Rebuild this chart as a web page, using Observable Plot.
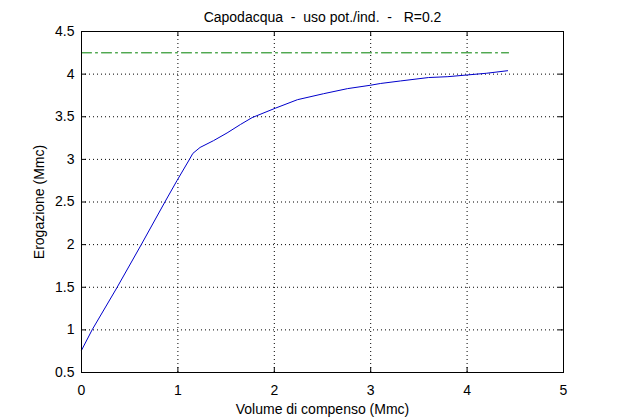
<!DOCTYPE html>
<html>
<head>
<meta charset="utf-8">
<script src="https://cdn.jsdelivr.net/npm/d3@7"></script>
<script src="https://cdn.jsdelivr.net/npm/@observablehq/plot@0.6"></script>
<style>
  html, body { margin: 0; padding: 0; background: #fff; }
  svg { display: block; }
</style>
</head>
<body>
<div id="chart"></div>
<script>
const titleText = "Capodacqua  -  uso pot./ind.  -   R=0.2";
const xLabel = "Volume di compenso (Mmc)";
const yLabel = "Erogazione (Mmc)";

const volume = [0, 0.11, 0.37, 0.62, 0.87, 0.99, 1.12, 1.155, 1.23, 1.37, 1.51, 1.65, 1.77, 2.01, 2.24, 2.51, 2.76, 3.00, 3.10, 3.31, 3.60, 3.80, 4.00, 4.20, 4.42];
const erogazione = [0.76, 1.00, 1.50, 2.00, 2.51, 2.75, 3.00, 3.07, 3.14, 3.22, 3.31, 3.41, 3.49, 3.60, 3.70, 3.77, 3.83, 3.87, 3.89, 3.92, 3.96, 3.97, 3.99, 4.01, 4.04];

const refVolume = [0, 4.43];
const refValue = [4.25, 4.25];

const xTicks = [0, 1, 2, 3, 4, 5];
const yTicks = [0.5, 1, 1.5, 2, 2.5, 3, 3.5, 4, 4.5];

const curve = volume.map((v, i) => ({x: v, y: erogazione[i]}));
const ref = refVolume.map((v, i) => ({x: v, y: refValue[i]}));

const W = 623, H = 419;
const mL = 81, mR = 60, mT = 31, mB = 47;
const frameH = H - mT - mB;
const frameW = W - mL - mR;
const tickLen = 5;

const chart = Plot.plot({
  width: W,
  height: H,
  marginLeft: mL,
  marginRight: mR,
  marginTop: mT,
  marginBottom: mB,
  style: {fontFamily: "Liberation Sans, Arial, sans-serif", fontSize: "14px", color: "#000", background: "#fff"},
  x: {domain: [0, 5]},
  y: {domain: [0.5, 4.5]},
  marks: [
    Plot.gridX(xTicks.slice(1, -1), {stroke: "#000", strokeOpacity: 1, strokeDasharray: "1,3", strokeWidth: 1}),
    Plot.gridY(yTicks.slice(1, -1), {stroke: "#000", strokeOpacity: 1, strokeDasharray: "1,3", strokeWidth: 1}),
    Plot.line(ref, {x: "x", y: "y", stroke: "#008000", strokeWidth: 1, strokeDasharray: "10,4,2,4"}),
    Plot.line(curve, {x: "x", y: "y", stroke: "#0000cc", strokeWidth: 1}),
    Plot.frame({stroke: "#000", strokeWidth: 1}),
    Plot.tickX(xTicks, {x: d => d, stroke: "#000", insetTop: frameH - tickLen}),
    Plot.tickX(xTicks, {x: d => d, stroke: "#000", insetBottom: frameH - tickLen}),
    Plot.tickY(yTicks, {y: d => d, stroke: "#000", insetRight: frameW - tickLen}),
    Plot.tickY(yTicks, {y: d => d, stroke: "#000", insetLeft: frameW - tickLen}),
    Plot.axisX(xTicks, {tickSize: 0, tickPadding: 13, tickFormat: d => String(d), fontSize: 14, label: xLabel, labelAnchor: "center", labelOffset: 41, labelArrow: "none"}),
    Plot.axisY(yTicks, {tickSize: 0, tickPadding: 7, tickFormat: d => String(d), fontSize: 14, label: yLabel, labelAnchor: "center", labelOffset: 47, labelArrow: "none"}),
    Plot.text([titleText], {text: d => d, frameAnchor: "top", dy: -19, fontSize: 14, fill: "#000"})
  ]
});

document.getElementById("chart").appendChild(chart);
</script>
</body>
</html>
